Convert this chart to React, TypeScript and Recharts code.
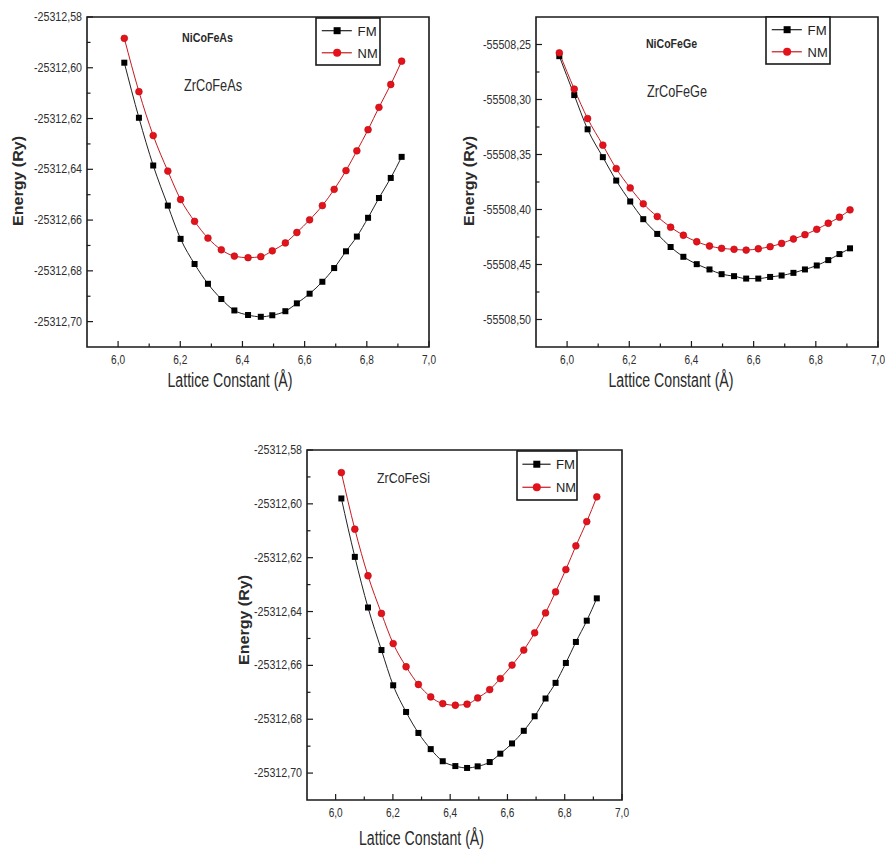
import React from "react";
import { LineChart, Line, XAxis, YAxis, ReferenceArea } from "recharts";

const FONT = "'Liberation Sans', Arial, Helvetica, sans-serif";
const INK = "#1a1a1a";
const RED = "#e3121b";

// ZrCoFeAs / ZrCoFeSi panels (same curves)
const latticeAs = [6.02, 6.067, 6.113, 6.16, 6.201, 6.246, 6.289, 6.332, 6.374, 6.418, 6.459, 6.496, 6.538, 6.575, 6.616, 6.657, 6.695, 6.733, 6.768, 6.804, 6.839, 6.877, 6.912];
const fmAs = [-25312.598, -25312.6197, -25312.6385, -25312.6543, -25312.6674, -25312.6773, -25312.6851, -25312.6911, -25312.6956, -25312.6974, -25312.6981, -25312.6975, -25312.6959, -25312.6928, -25312.689, -25312.6843, -25312.6789, -25312.6723, -25312.6665, -25312.6591, -25312.6513, -25312.6434, -25312.6351];
const nmAs = [-25312.5884, -25312.6094, -25312.6267, -25312.6407, -25312.6519, -25312.6605, -25312.6671, -25312.6717, -25312.6742, -25312.6748, -25312.6744, -25312.6721, -25312.669, -25312.6649, -25312.6599, -25312.6543, -25312.6479, -25312.6405, -25312.6327, -25312.6244, -25312.6156, -25312.6066, -25312.5974];

// ZrCoFeGe panel
const latticeGe = [5.975, 6.023, 6.066, 6.115, 6.158, 6.203, 6.245, 6.29, 6.333, 6.374, 6.417, 6.458, 6.497, 6.537, 6.576, 6.615, 6.653, 6.69, 6.728, 6.765, 6.803, 6.84, 6.876, 6.91];
const fmGe = [-55508.2606, -55508.296, -55508.3271, -55508.3524, -55508.3737, -55508.3927, -55508.4088, -55508.4222, -55508.4341, -55508.443, -55508.4497, -55508.4545, -55508.4588, -55508.4606, -55508.4628, -55508.4628, -55508.4613, -55508.46, -55508.4576, -55508.4545, -55508.4509, -55508.446, -55508.4405, -55508.4353];
const nmGe = [-55508.2576, -55508.2905, -55508.3173, -55508.3415, -55508.3628, -55508.3804, -55508.3948, -55508.4064, -55508.4161, -55508.4234, -55508.4293, -55508.4332, -55508.4353, -55508.4362, -55508.4369, -55508.4357, -55508.4338, -55508.4308, -55508.4268, -55508.4229, -55508.418, -55508.4125, -55508.407, -55508.4003];

// ticks
const xMajor = [6.0, 6.2, 6.4, 6.6, 6.8, 7.0];
const xMinor = [6.1, 6.3, 6.5, 6.7, 6.9];
const yMajorAs = [-25312.7, -25312.68, -25312.66, -25312.64, -25312.62, -25312.6, -25312.58];
const yMinorAs = [-25312.69, -25312.67, -25312.65, -25312.63, -25312.61, -25312.59];
const yMajorGe = [-55508.5, -55508.45, -55508.4, -55508.35, -55508.3, -55508.25];
const yMinorGe = [-55508.475, -55508.425, -55508.375, -55508.325, -55508.275];

const xDomain: [number, number] = [5.9, 7.0];
const yDomainAs: [number, number] = [-25312.71, -25312.58];
const yDomainGe: [number, number] = [-55508.525, -55508.225];

const toRows = (a: number[], fm: number[], nm: number[]) =>
  a.map((v, i) => ({ a: v, fm: fm[i], nm: nm[i] }));

const near = (list: number[], v: number) => list.some((m) => Math.abs(m - v) < 1e-6);

function XTick(props: any) {
  const { x, y, payload, majors } = props;
  const major = near(majors, payload.value);
  return (
    <g>
      <line x1={x} x2={x} y1={y} y2={y - (major ? 6 : 3.5)} stroke={INK} strokeWidth={1.2} />
      {major && (
        <text x={x} y={y + 17} textAnchor="middle" fontFamily={FONT} fontSize={12.5} fill="#2e2e2e"
          textLength={14} lengthAdjust="spacingAndGlyphs">
          {payload.value.toFixed(1).replace(".", ",")}
        </text>
      )}
    </g>
  );
}

function YTick(props: any) {
  const { x, y, payload, majors } = props;
  const major = near(majors, payload.value);
  return (
    <g>
      <line x1={x} x2={x + (major ? 6 : 3.5)} y1={y} y2={y} stroke={INK} strokeWidth={1.2} />
      {major && (
        <text x={x - 5} y={y + 4} textAnchor="end" fontFamily={FONT} fontSize={12.5} fill="#2e2e2e"
          textLength={48} lengthAdjust="spacingAndGlyphs">
          {payload.value.toFixed(2).replace(".", ",")}
        </text>
      )}
    </g>
  );
}

const squareDot = (p: any) => (
  <rect key={`s${p.index}`} x={p.cx - 3} y={p.cy - 3} width={6} height={6} fill="#000" />
);
const circleDot = (p: any) => (
  <circle key={`c${p.index}`} cx={p.cx} cy={p.cy} r={3.4} fill={RED} stroke="#b80c12" strokeWidth={0.6} />
);

function Panel(props: any) {
  const { rows, left, top, width, height, margin, yDomain, yMajor, yMinor, xTitle, yTitle } = props;
  return (
    <div style={{ position: "absolute", left, top }}>
      <LineChart width={width} height={height} data={rows} margin={margin}>
        <ReferenceArea x1={xDomain[0]} x2={xDomain[1]} y1={yDomain[0]} y2={yDomain[1]}
          fill="none" stroke={INK} strokeWidth={1.6} ifOverflow="visible" />
        <XAxis type="number" dataKey="a" domain={xDomain} allowDataOverflow
          ticks={[...xMajor, ...xMinor]} interval={0} height={30}
          tickSize={0} tickMargin={0} axisLine={false} tickLine={false}
          tick={<XTick majors={xMajor} />}
          label={() => (
            <text x={xTitle.x} y={xTitle.y} textAnchor="middle" fontFamily={FONT} fontSize={20}
              fill="#2a2a2a" textLength={125} lengthAdjust="spacingAndGlyphs">
              Lattice Constant (Å)
            </text>
          )}
        />
        <YAxis type="number" domain={yDomain} allowDataOverflow
          ticks={[...yMajor, ...yMinor]} interval={0} width={60}
          tickSize={0} tickMargin={0} axisLine={false} tickLine={false}
          tick={<YTick majors={yMajor} />}
          label={() => (
            <text x={yTitle.x} y={yTitle.y} transform={`rotate(-90 ${yTitle.x} ${yTitle.y})`}
              textAnchor="middle" fontFamily={FONT} fontSize={14} fontWeight="bold" fill="#2a2a2a"
              textLength={90} lengthAdjust="spacingAndGlyphs">
              Energy (Ry)
            </text>
          )}
        />
        <Line type="monotone" dataKey="fm" name="FM" stroke="#222" strokeWidth={1}
          dot={squareDot} activeDot={false} isAnimationActive={false} />
        <Line type="monotone" dataKey="nm" name="NM" stroke="#c8191f" strokeWidth={1}
          dot={circleDot} activeDot={false} isAnimationActive={false} />
      </LineChart>
    </div>
  );
}

function LegendBox({ x, y, w, h }: { x: number; y: number; w: number; h: number }) {
  const r1 = y + 0.27 * h;
  const r2 = y + 0.74 * h;
  const l1 = x + 0.09 * w;
  const l2 = x + 0.56 * w;
  const m = x + 0.33 * w;
  const t = x + 0.65 * w;
  return (
    <g>
      <rect x={x} y={y} width={w} height={h} fill="#fff" stroke={INK} strokeWidth={1.6} />
      <line x1={l1} x2={l2} y1={r1} y2={r1} stroke="#222" strokeWidth={1.2} />
      <rect x={m - 3.5} y={r1 - 3.5} width={7} height={7} fill="#000" />
      <text x={t} y={r1 + 5} fontFamily={FONT} fontSize={13} fill="#222" textLength={19} lengthAdjust="spacingAndGlyphs">FM</text>
      <line x1={l1} x2={l2} y1={r2} y2={r2} stroke="#c8191f" strokeWidth={1.2} />
      <circle cx={m} cy={r2} r={4} fill={RED} />
      <text x={t} y={r2 + 5} fontFamily={FONT} fontSize={13} fill="#222" textLength={20} lengthAdjust="spacingAndGlyphs">NM</text>
    </g>
  );
}

function Note({ x, y, w, size, bold, children }: any) {
  return (
    <text x={x} y={y} fontFamily={FONT} fontSize={size} fontWeight={bold ? "bold" : "normal"}
      fill="#2a2a2a" textLength={w} lengthAdjust="spacingAndGlyphs">
      {children}
    </text>
  );
}

export default function App() {
  const rowsAs = toRows(latticeAs, fmAs, nmAs);
  const rowsGe = toRows(latticeGe, fmGe, nmGe);
  return (
    <div style={{ position: "absolute", left: 0, top: 0, width: 885, height: 850, background: "#fff" }}>
      <Panel rows={rowsAs} left={0} top={0} width={440} height={400}
        margin={{ top: 17, left: 27, right: 11, bottom: 23 }}
        yDomain={yDomainAs} yMajor={yMajorAs} yMinor={yMinorAs}
        xTitle={{ x: 230, y: 387 }} yTitle={{ x: 23, y: 181 }} />
      <Panel rows={rowsGe} left={450} top={0} width={435} height={400}
        margin={{ top: 17, left: 26, right: 7, bottom: 23 }}
        yDomain={yDomainGe} yMajor={yMajorGe} yMinor={yMinorGe}
        xTitle={{ x: 221, y: 387 }} yTitle={{ x: 23.5, y: 181 }} />
      <Panel rows={rowsAs} left={230} top={430} width={420} height={420}
        margin={{ top: 20, left: 17, right: 28, bottom: 20 }}
        yDomain={yDomainAs} yMajor={yMajorAs} yMinor={yMinorAs}
        xTitle={{ x: 191.5, y: 415 }} yTitle={{ x: 19, y: 190 }} />
      <svg width={885} height={850} style={{ position: "absolute", left: 0, top: 0, pointerEvents: "none" }}>
        <LegendBox x={316} y={18} w={64} h={47} />
        <LegendBox x={766} y={17} w={64} h={47} />
        <LegendBox x={517} y={451} w={60} h={49} />
        <Note x={182} y={42} w={51} size={13} bold>NiCoFeAs</Note>
        <Note x={184} y={91} w={58} size={16}>ZrCoFeAs</Note>
        <Note x={646} y={48} w={51} size={13} bold>NiCoFeGe</Note>
        <Note x={647} y={97} w={60} size={16}>ZrCoFeGe</Note>
        <Note x={377} y={483} w={53} size={15}>ZrCoFeSi</Note>
      </svg>
    </div>
  );
}
